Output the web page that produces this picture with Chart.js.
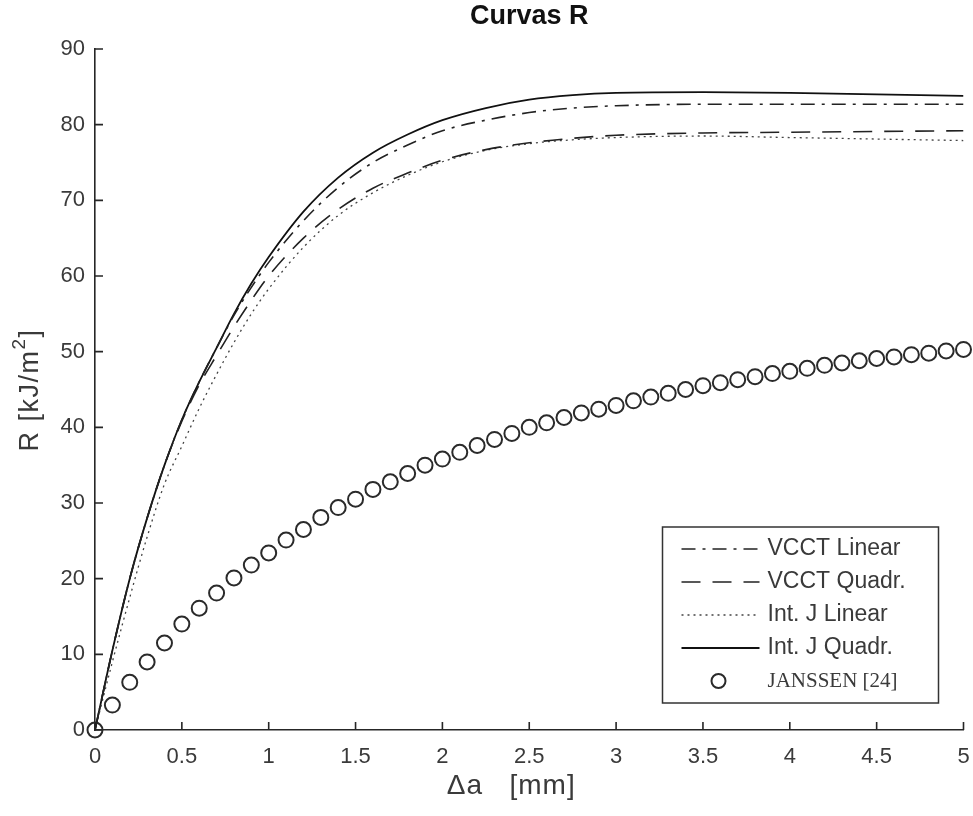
<!DOCTYPE html>
<html lang="es">
<head>
<meta charset="utf-8">
<title>Curvas R</title>
<script src="https://cdn.jsdelivr.net/npm/chart.js@4.4.1/dist/chart.umd.min.js"></script>
<style>
  html, body { margin: 0; background: #fff; }
  #wrap { width: 973px; height: 816px; }
</style>
</head>
<body>
<div id="wrap"><canvas id="rChart" width="973" height="816"></canvas></div>
<script>
// crack extension (mm) for the numerical curves
const curveX = [0, 0.1, 0.2, 0.3, 0.4, 0.5, 0.6, 0.7, 0.8, 0.9, 1.0, 1.2, 1.4, 1.6, 1.8, 2.0, 2.25, 2.5, 2.75, 3.0, 3.5, 4.0, 4.5, 5.0];
const vcctLinear = [0, 10.5, 20, 28, 35, 41, 46, 50.5, 54.8, 58.5, 61.8, 67.3, 71.7, 75, 77.3, 79.2, 80.6, 81.6, 82.2, 82.5, 82.7, 82.7, 82.7, 82.7];
const vcctQuadr = [0, 10.5, 20, 28, 35, 40.8, 45.6, 49.5, 53.3, 56.8, 60, 65, 68.8, 71.6, 73.6, 75.3, 76.7, 77.6, 78.2, 78.6, 78.9, 79.0, 79.1, 79.2];
const intJLinear = [0, 9, 17.5, 25.5, 32.5, 37.5, 42.5, 47, 51.2, 55, 58.3, 63.8, 68, 71, 73.3, 75.1, 76.6, 77.5, 78.0, 78.3, 78.5, 78.3, 78.1, 77.9];
const intJQuadr = [0, 10.5, 20, 28, 35, 41, 46, 50.5, 55, 59, 62.5, 68.5, 73, 76.3, 78.7, 80.6, 82.2, 83.3, 83.9, 84.2, 84.3, 84.2, 84.0, 83.8];

// experimental points
const janssenX = [0, 0.1, 0.2, 0.3, 0.4, 0.5, 0.6, 0.7, 0.8, 0.9, 1.0, 1.1, 1.2, 1.3, 1.4, 1.5, 1.6, 1.7, 1.8, 1.9, 2.0, 2.1, 2.2, 2.3, 2.4, 2.5, 2.6, 2.7, 2.8, 2.9, 3.0, 3.1, 3.2, 3.3, 3.4, 3.5, 3.6, 3.7, 3.8, 3.9, 4.0, 4.1, 4.2, 4.3, 4.4, 4.5, 4.6, 4.7, 4.8, 4.9, 5.0];
const janssenR = [0, 3.3, 6.3, 9.0, 11.5, 14.0, 16.1, 18.1, 20.1, 21.8, 23.4, 25.1, 26.5, 28.1, 29.4, 30.5, 31.8, 32.8, 33.9, 35.0, 35.8, 36.7, 37.6, 38.4, 39.2, 40.0, 40.6, 41.3, 41.9, 42.4, 42.9, 43.5, 44.0, 44.5, 45.0, 45.5, 45.9, 46.3, 46.7, 47.1, 47.4, 47.8, 48.2, 48.5, 48.8, 49.1, 49.3, 49.6, 49.8, 50.1, 50.3];

const xTickValues = [0, 0.5, 1, 1.5, 2, 2.5, 3, 3.5, 4, 4.5, 5];
const xTickLabels = ['0', '0.5', '1', '1.5', '2', '2.5', '3', '3.5', '4', '4.5', '5'];
const yTickValues = [0, 10, 20, 30, 40, 50, 60, 70, 80, 90];
const yTickLabels = ['0', '10', '20', '30', '40', '50', '60', '70', '80', '90'];

const axisColor = '#262626';
const textColor = '#3a3a3a';
const sans = '"Liberation Sans", Arial, sans-serif';

function lineSet(label, ys, dash, width, color) {
	return {
		label: label,
		data: curveX.map((x, i) => ({ x: x, y: ys[i] })),
		showLine: true,
		pointRadius: 0,
		borderColor: color,
		borderWidth: width,
		borderDash: dash,
		cubicInterpolationMode: 'monotone',
		fill: false
	};
}

const datasets = [
	lineSet('VCCT Linear', vcctLinear, [14, 7, 3, 7], 1.6, '#222'),
	lineSet('VCCT Quadr.', vcctQuadr, [19, 12], 1.6, '#222'),
	lineSet('Int. J Linear', intJLinear, [2, 4], 1.3, '#444'),
	lineSet('Int. J Quadr.', intJQuadr, [], 1.8, '#111'),
	{
		label: 'JANSSEN [24]',
		data: janssenX.map((x, i) => ({ x: x, y: janssenR[i] })),
		showLine: false,
		pointStyle: 'circle',
		pointRadius: 7.5,
		pointBorderWidth: 2,
		borderColor: '#2a2a2a',
		backgroundColor: 'rgba(0,0,0,0)',
		clip: false
	}
];

// inward tick marks, like the original figure
const tickMarks = {
	id: 'tickMarks',
	beforeDatasetsDraw(chart) {
		const ctx = chart.ctx, ca = chart.chartArea;
		const xs = chart.scales.x, ys = chart.scales.y;
		ctx.save();
		ctx.strokeStyle = axisColor;
		ctx.lineWidth = 1.6;
		ctx.beginPath();
		xTickValues.forEach(v => {
			const px = xs.getPixelForValue(v);
			ctx.moveTo(px, ca.bottom);
			ctx.lineTo(px, ca.bottom - 8);
		});
		yTickValues.forEach(v => {
			const py = ys.getPixelForValue(v);
			ctx.moveTo(ca.left, py);
			ctx.lineTo(ca.left + 8, py);
		});
		ctx.stroke();
		ctx.restore();
	}
};

// titles and boxed legend
const decorations = {
	id: 'decorations',
	afterDatasetsDraw(chart) {
		const ctx = chart.ctx, ca = chart.chartArea;
		const midX = (ca.left + ca.right) / 2;
		ctx.save();
		ctx.fillStyle = '#111';
		ctx.font = 'bold 27px ' + sans;
		ctx.textAlign = 'center';
		ctx.textBaseline = 'middle';
		ctx.fillText('Curvas R', midX, 17);

		// x axis title
		ctx.fillStyle = textColor;
		ctx.font = '28px ' + sans;
		ctx.letterSpacing = '1px';
		ctx.fillText('\u0394a   [mm]', midX - 18, 786);

		// y axis title with superscript
		ctx.save();
		ctx.translate(31, 390);
		ctx.rotate(-Math.PI / 2);
		ctx.letterSpacing = '1.5px';
		ctx.textAlign = 'left';
		const main = 'R [kJ/m', sup = '2', close = ']';
		ctx.font = '27px ' + sans;
		const w1 = ctx.measureText(main).width;
		const w3 = ctx.measureText(close).width;
		ctx.font = '19px ' + sans;
		const w2 = ctx.measureText(sup).width;
		const x0 = -(w1 + w2 + w3) / 2;
		ctx.font = '27px ' + sans;
		ctx.fillText(main, x0, 0);
		ctx.fillText(close, x0 + w1 + w2, 0);
		ctx.font = '19px ' + sans;
		ctx.fillText(sup, x0 + w1, -11);
		ctx.restore();
		ctx.letterSpacing = '0px';

		// legend
		const bx = ca.right - 301, by = ca.bottom - 203, bw = 276, bh = 176;
		ctx.fillStyle = '#fff';
		ctx.fillRect(bx, by, bw, bh);
		ctx.strokeStyle = '#333';
		ctx.lineWidth = 1.5;
		ctx.strokeRect(bx, by, bw, bh);

		ctx.textAlign = 'left';
		chart.data.datasets.forEach((ds, i) => {
			const cy = by + 22 + i * 33;
			if (ds.showLine) {
				ctx.strokeStyle = ds.borderColor;
				ctx.lineWidth = ds.borderWidth;
				ctx.setLineDash(ds.borderDash);
				ctx.beginPath();
				ctx.moveTo(bx + 19, cy);
				ctx.lineTo(bx + 97, cy);
				ctx.stroke();
				ctx.setLineDash([]);
				ctx.font = '23px ' + sans;
			} else {
				ctx.strokeStyle = ds.borderColor;
				ctx.lineWidth = 2;
				ctx.beginPath();
				ctx.arc(bx + 56, cy, 7, 0, Math.PI * 2);
				ctx.stroke();
				ctx.font = '21px "Liberation Serif", "Times New Roman", serif';
			}
			ctx.fillStyle = textColor;
			ctx.fillText(ds.label, bx + 105, cy);
		});
		ctx.restore();
	}
};

new Chart(document.getElementById('rChart'), {
	type: 'scatter',
	data: { datasets: datasets },
	plugins: [tickMarks, decorations],
	options: {
		responsive: false,
		animation: false,
		layout: { padding: { top: 49, right: 9, left: 0, bottom: 0 } },
		plugins: {
			legend: { display: false },
			tooltip: { enabled: false },
			title: { display: false }
		},
		scales: {
			x: {
				type: 'linear',
				min: 0,
				max: 5,
				afterBuildTicks: s => { s.ticks = xTickValues.map(v => ({ value: v })); },
				afterFit: s => { s.height = 86; s.paddingLeft = 0; s.paddingRight = 0; },
				ticks: {
					callback: (v, i) => xTickLabels[i],
					color: textColor,
					font: { family: sans, size: 22 },
					padding: 14,
					maxRotation: 0,
					autoSkip: false
				},
				grid: { display: false, drawTicks: false },
				border: { display: true, color: axisColor, width: 1.6 }
			},
			y: {
				type: 'linear',
				min: 0,
				max: 90,
				afterBuildTicks: s => { s.ticks = yTickValues.map(v => ({ value: v })); },
				afterFit: s => { s.width = 95; s.paddingTop = 0; s.paddingBottom = 0; },
				ticks: {
					callback: (v, i) => yTickLabels[i],
					color: textColor,
					font: { family: sans, size: 22 },
					padding: 10,
					autoSkip: false
				},
				grid: { display: false, drawTicks: false },
				border: { display: true, color: axisColor, width: 1.6 }
			}
		}
	}
});
</script>
</body>
</html>
